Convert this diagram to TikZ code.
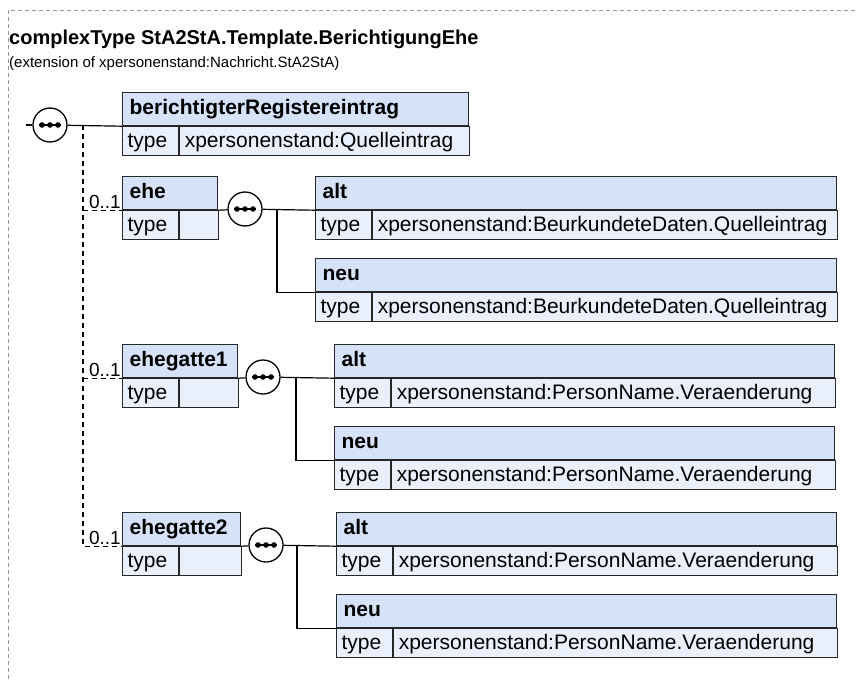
\documentclass[tikz,border=0pt]{standalone}
\usepackage{fontspec}
\setmainfont{Liberation Sans}
\usetikzlibrary{positioning,calc}
\definecolor{hdrblue}{RGB}{214,226,248}
\definecolor{rowblue}{RGB}{233,240,252}
\definecolor{framegray}{RGB}{150,150,150}

\begin{document}
\begin{tikzpicture}[x=1pt, y=-1pt,
  hdr/.style={rectangle, draw=black!85, fill=hdrblue, line width=1.2pt, anchor=north west,
    minimum height=33pt, inner xsep=7pt, inner ysep=0pt, text height=15pt, text depth=4pt,
    align=left, font=\fontsize{21}{24}\selectfont\bfseries},
  cell/.style={rectangle, draw=black!85, fill=rowblue, line width=1.2pt, anchor=north west,
    minimum height=29pt, inner xsep=5pt, inner ysep=0pt, text height=16pt, text depth=3pt,
    align=left, font=\fontsize{21}{24}\selectfont},
  seq/.style={circle, draw=black, fill=white, line width=1.3pt, minimum size=34pt, inner sep=0pt,
    path picture={
      \draw[black, line width=1.2pt] ([xshift=-11pt]path picture bounding box.center)
        -- ([xshift=11pt]path picture bounding box.center);
      \foreach \dx in {-8,0,8}
        \fill[black] ([xshift=\dx pt]path picture bounding box.center) circle (2.8pt);}},
  conn/.style={black, line width=1.2pt},
  opt/.style={black, line width=1.2pt, dash pattern=on 5pt off 4pt},
  card/.style={anchor=south east, inner sep=1pt, font=\fontsize{19}{22}\selectfont}]
\useasboundingbox (0,0) rectangle (858,679);
% frame
\draw[framegray, line width=0.8pt, dash pattern=on 4pt off 3pt] (8,679) -- (8,10) -- (858,10);
\node[anchor=base west, inner sep=0pt, font=\fontsize{20}{24}\selectfont\bfseries] (title) at (9,45)
  {complexType StA2StA.Template.BerichtigungEhe};
\node[anchor=base west, inner sep=0pt, font=\fontsize{15}{18}\selectfont] (ext) at (9,68)
  {(extension of xpersonenstand:Nachricht.StA2StA)};

% top sequence
\node[seq] (s0) at (50,125) {};
\coordinate (lead) at (26,125);
\coordinate (trunk) at (83,125);
\node[hdr, text width=332pt] (bre) at (122,92) {berichtigterRegistereintrag};
\node[cell, text width=46pt] (bret) at (bre.south west) {type};
\node[cell, text width=280pt] (brev) at (bret.north east) {xpersonenstand:Quelleintrag};
\draw[conn] (lead) -- (s0);
\draw[conn] (s0) -- (bre.south west);

% ehe
\node[hdr, text width=81pt] (ehe) at (122,176) {ehe};
\node[cell, text width=46pt] (ehet) at (ehe.south west) {type};
\node[cell, text width=29pt] (ehev) at (ehet.north east) {};
\node[seq] (s1) at (245,209) {};
\coordinate (j1) at (277,209);
\node[hdr, text width=507pt] (alt1) at (315,176) {alt};
\node[cell, text width=46pt] (alt1t) at (alt1.south west) {type};
\node[cell, text width=455pt] (alt1v) at (alt1t.north east) {xpersonenstand:BeurkundeteDaten.Quelleintrag};
\node[hdr, text width=507pt] (neu1) at (315,258) {neu};
\node[cell, text width=46pt] (neu1t) at (neu1.south west) {type};
\node[cell, text width=455pt] (neu1v) at (neu1t.north east) {xpersonenstand:BeurkundeteDaten.Quelleintrag};
\draw[conn] (ehe.south east) -- (s1);
\draw[conn] (s1) -- (alt1.south west);
\draw[conn] (j1) |- (neu1.south west);

% ehegatte1
\node[hdr, text width=101pt] (eg1) at (122,344) {ehegatte1};
\node[cell, text width=46pt] (eg1t) at (eg1.south west) {type};
\node[cell, text width=49pt] (eg1v) at (eg1t.north east) {};
\node[seq] (s2) at (263,377) {};
\coordinate (j2) at (296,377);
\node[hdr, text width=486pt] (alt2) at (334,344) {alt};
\node[cell, text width=46pt] (alt2t) at (alt2.south west) {type};
\node[cell, text width=434pt] (alt2v) at (alt2t.north east) {xpersonenstand:PersonName.Veraenderung};
\node[hdr, text width=486pt] (neu2) at (334,426) {neu};
\node[cell, text width=46pt] (neu2t) at (neu2.south west) {type};
\node[cell, text width=434pt] (neu2v) at (neu2t.north east) {xpersonenstand:PersonName.Veraenderung};
\draw[conn] (eg1.south east) -- (s2);
\draw[conn] (s2) -- (alt2.south west);
\draw[conn] (j2) |- (neu2.south west);

% ehegatte2
\node[hdr, text width=104pt] (eg2) at (122,512) {ehegatte2};
\node[cell, text width=46pt] (eg2t) at (eg2.south west) {type};
\node[cell, text width=52pt] (eg2v) at (eg2t.north east) {};
\node[seq] (s3) at (266,545) {};
\coordinate (j3) at (297,545);
\node[hdr, text width=486pt] (alt3) at (336,512) {alt};
\node[cell, text width=46pt] (alt3t) at (alt3.south west) {type};
\node[cell, text width=434pt] (alt3v) at (alt3t.north east) {xpersonenstand:PersonName.Veraenderung};
\node[hdr, text width=486pt] (neu3) at (336,594) {neu};
\node[cell, text width=46pt] (neu3t) at (neu3.south west) {type};
\node[cell, text width=434pt] (neu3v) at (neu3t.north east) {xpersonenstand:PersonName.Veraenderung};
\draw[conn] (eg2.south east) -- (s3);
\draw[conn] (s3) -- (alt3.south west);
\draw[conn] (j3) |- (neu3.south west);

% optional branches
\draw[opt] (trunk) |- (eg2.south west);
\draw[opt] (trunk |- ehe.south west) -- (ehe.south west);
\draw[opt] (trunk |- eg1.south west) -- (eg1.south west);
\node[card] (c1) at (ehe.south west) {0..1};
\node[card] (c2) at (eg1.south west) {0..1};
\node[card] (c3) at (eg2.south west) {0..1};
\end{tikzpicture}
\end{document}
